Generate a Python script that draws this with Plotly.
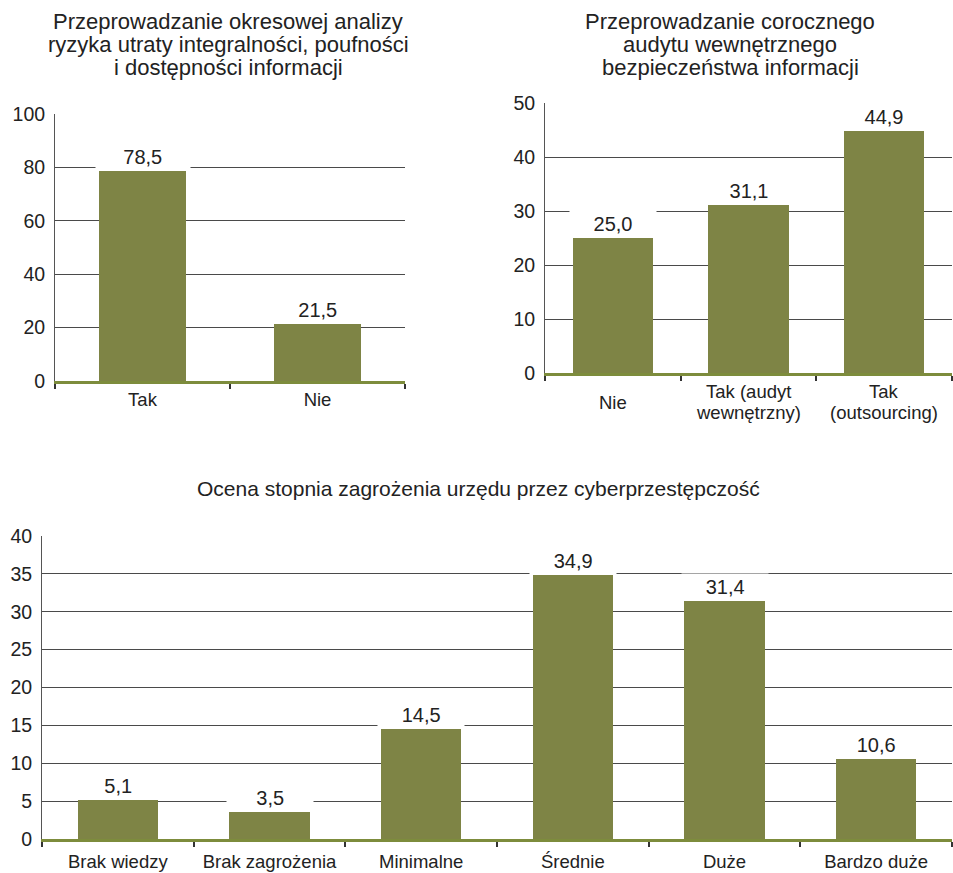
import plotly.graph_objects as go

W, H = 953, 873

# ---- data ----
cat1 = ["Tak", "Nie"]
val1 = [78.5, 21.5]
title1 = ["Przeprowadzanie okresowej analizy",
          "ryzyka utraty integralności, poufności",
          "i dostępności informacji"]

cat2 = ["Nie", "Tak (audyt wewnętrzny)", "Tak (outsourcing)"]
lab2 = [["Nie"], ["Tak (audyt", "wewnętrzny)"], ["Tak", "(outsourcing)"]]
val2 = [25.0, 31.1, 44.9]
title2 = ["Przeprowadzanie corocznego",
          "audytu wewnętrznego",
          "bezpieczeństwa informacji"]

cat3 = ["Brak wiedzy", "Brak zagrożenia", "Minimalne", "Średnie", "Duże", "Bardzo duże"]
val3 = [5.1, 3.5, 14.5, 34.9, 31.4, 10.6]
title3 = ["Ocena stopnia zagrożenia urzędu przez cyberprzestępczość"]

BAR = "#7e8445"
AXGREEN = "#7d8c3c"
GRID = "#4a4a4a"
TXT = "#222222"
FONT = "Liberation Sans, Arial, sans-serif"


def px_x(p):
    return p / W


def px_y(p):
    return (H - p) / H


fmt = lambda v: f"{v:.1f}".replace(".", ",")

fig = go.Figure()

panels = [
    dict(cats=cat1, vals=val1, ax="", xd=(55, 405), yd=(381, 114), rng=(0, 100), dt=20, bw=0.5,
         title=title1, tx=228, ty=21, tsize=22, standoff=0),
    dict(cats=cat2, vals=val2, ax="2", xd=(545, 952), yd=(373, 103), rng=(0, 50), dt=10, bw=0.59,
         title=title2, tx=730, ty=21, tsize=22, standoff=0),
    dict(cats=cat3, vals=val3, ax="3", xd=(42, 952), yd=(839, 536), rng=(0, 40), dt=5, bw=0.53,
         title=title3, tx=478, ty=488, tsize=21, standoff=4),
]

annotations = []
for p in panels:
    xa = "x" + p["ax"]
    ya = "y" + p["ax"]
    fig.add_trace(go.Bar(x=p["cats"], y=p["vals"], xaxis=xa, yaxis=ya, width=p["bw"],
                         marker=dict(color=BAR, line=dict(width=0)), showlegend=False,
                         hoverinfo="x+y"))
    n = len(p["cats"])
    catpx = (p["xd"][1] - p["xd"][0]) / n
    barpx = catpx * p["bw"]
    for c, v in zip(p["cats"], p["vals"]):
        annotations.append(dict(x=c, y=v, xref=xa, yref=ya, text=fmt(v), showarrow=False,
                                yanchor="bottom", yshift=0, bgcolor="white", width=barpx + 4,
                                height=24, font=dict(size=20, color=TXT, family=FONT)))
    for i, line in enumerate(p["title"]):
        annotations.append(dict(x=px_x(p["tx"]), y=px_y(p["ty"] + 23.5 * i), xref="paper", yref="paper",
                                text=line, showarrow=False, xanchor="center", yanchor="middle",
                                font=dict(size=p["tsize"], color=TXT, family=FONT)))
    key = "xaxis" + p["ax"]
    ykey = "yaxis" + p["ax"]
    fig.layout[key] = dict(domain=[px_x(p["xd"][0]), px_x(p["xd"][1])], anchor=ya,
                           type="category", range=[-0.5, n - 0.5], automargin=False,
                           showline=True, linecolor=AXGREEN, linewidth=2.5,
                           ticks="outside", tickson="boundaries", ticklen=5, tickwidth=2,
                           tickcolor="#333", showgrid=False, fixedrange=True,
                           ticklabelstandoff=p["standoff"],
                           tickfont=dict(size=18.5, color=TXT, family=FONT))
    fig.layout[ykey] = dict(domain=[px_y(p["yd"][0]), px_y(p["yd"][1])], anchor=xa,
                            range=list(p["rng"]), dtick=p["dt"], tick0=0, automargin=False,
                            showgrid=True, gridcolor=GRID, gridwidth=1,
                            showline=True, linecolor="#555", linewidth=1, zeroline=False,
                            ticks="", ticklabelstandoff=5, fixedrange=True,
                            tickfont=dict(size=19.5, color=TXT, family=FONT))

# Chart 2 x labels as annotations (two-line labels, single line centred)
fig.layout["xaxis2"]["showticklabels"] = False
for c, lines in zip(cat2, lab2):
    k = len(lines)
    for i, line in enumerate(lines):
        yc = 402 + (i - (k - 1) / 2) * 20
        annotations.append(dict(x=c, y=px_y(yc), xref="x2", yref="paper", text=line, showarrow=False,
                                yanchor="middle", font=dict(size=18.5, color=TXT, family=FONT)))

fig.update_layout(width=W, height=H, margin=dict(l=0, r=0, t=0, b=0, autoexpand=False),
                  paper_bgcolor="white", plot_bgcolor="white",
                  annotations=annotations, bargap=0)

fig.write_html("out.html")
